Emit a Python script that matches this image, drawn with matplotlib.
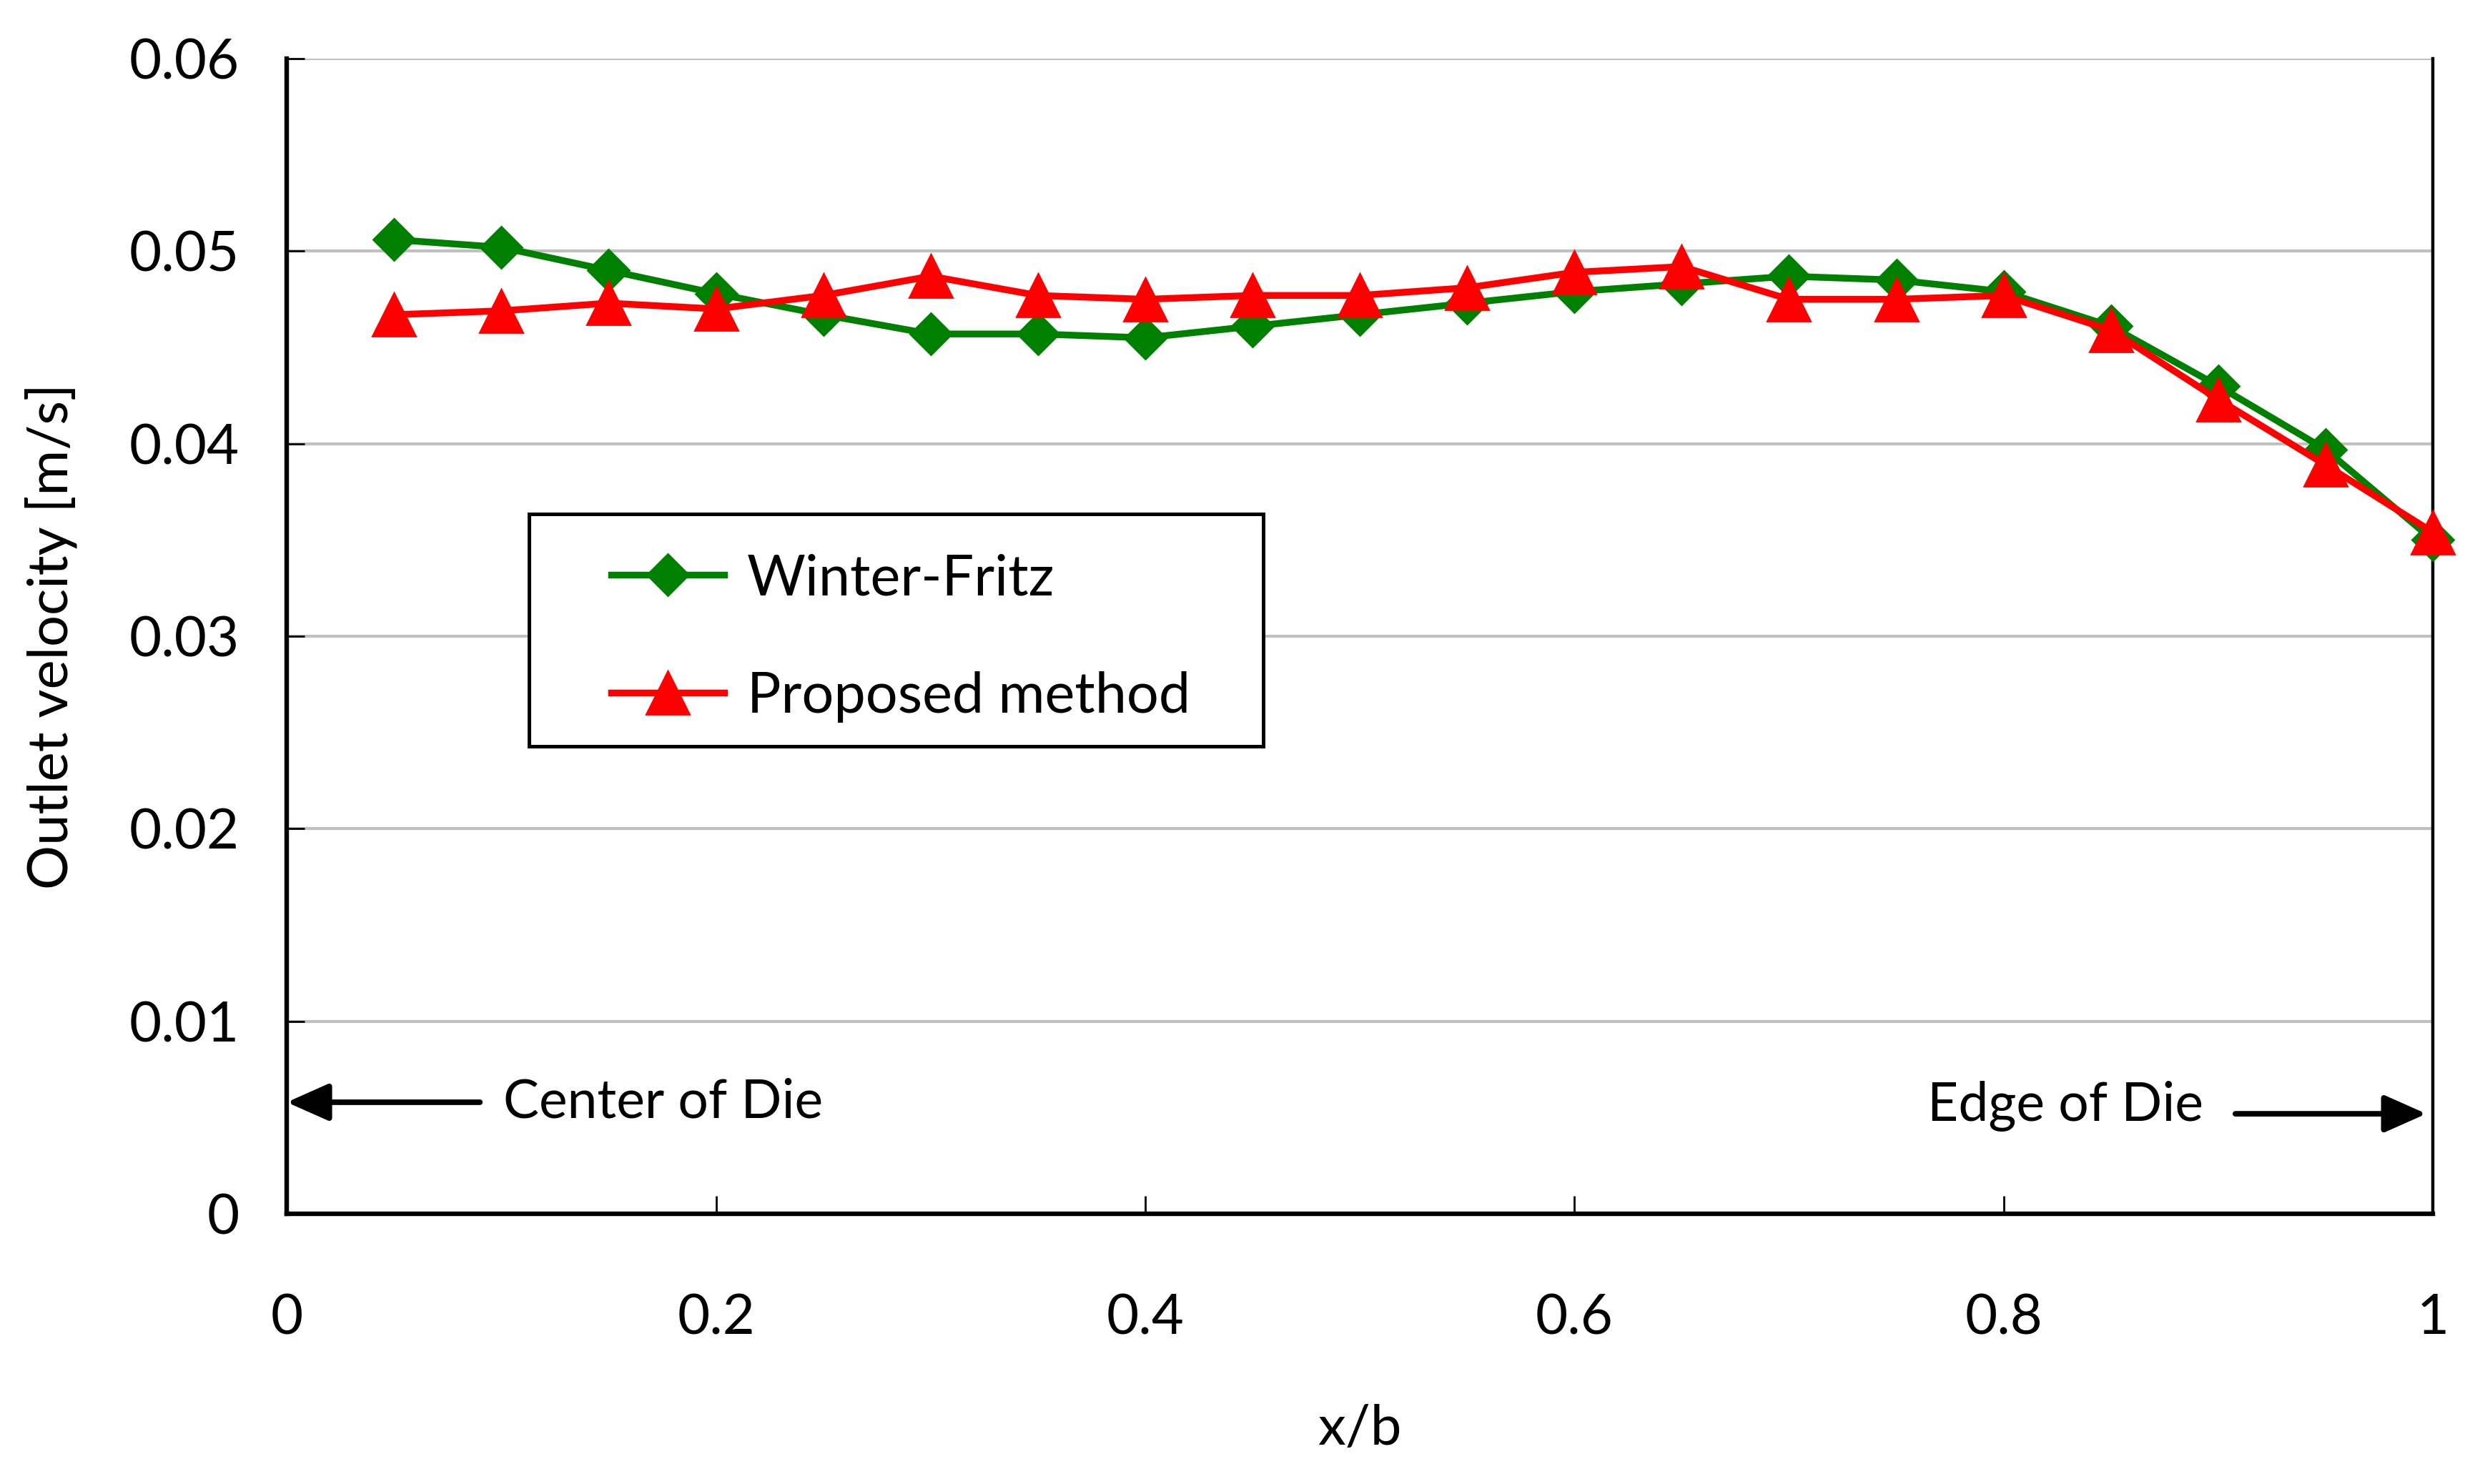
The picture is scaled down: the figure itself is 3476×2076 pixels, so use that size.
import numpy as np
import matplotlib
matplotlib.use("Agg")
import matplotlib.pyplot as plt
from matplotlib.patches import Rectangle

plt.rcParams['font.family'] = ['Lato', 'DejaVu Sans']

# data
x_b = [0.05, 0.1, 0.15, 0.2, 0.25, 0.3, 0.35, 0.4, 0.45, 0.5,
       0.55, 0.6, 0.65, 0.7, 0.75, 0.8, 0.85, 0.9, 0.95, 1.0]
winter_fritz = [0.0506, 0.0502, 0.0490, 0.0478, 0.0467, 0.0457, 0.0457, 0.0455, 0.0461, 0.0467,
                0.0473, 0.0479, 0.0483, 0.0487, 0.0485, 0.0479, 0.0461, 0.0430, 0.0397, 0.0350]
proposed = [0.0467, 0.0469, 0.0473, 0.0470, 0.0477, 0.0487, 0.0477, 0.0475, 0.0477, 0.0477,
            0.0481, 0.0489, 0.0492, 0.0475, 0.0475, 0.0477, 0.0459, 0.0423, 0.0389, 0.0354]
xticks = [0, 0.2, 0.4, 0.6, 0.8, 1]
xticklabels = ['0', '0.2', '0.4', '0.6', '0.8', '1']
yticks = [0, 0.01, 0.02, 0.03, 0.04, 0.05, 0.06]
yticklabels = ['0', '0.01', '0.02', '0.03', '0.04', '0.05', '0.06']

fig = plt.figure(figsize=(17.38, 10.38), dpi=200)
ax = fig.add_axes([0.1154, 0.182, 0.8636, 0.7785])

ax.plot(x_b, winter_fritz, color='#008000', lw=3.4, marker='D', ms=15,
        label='Winter-Fritz', clip_on=False, zorder=3)
ax.plot(x_b, proposed, color='#ff0000', lw=3.4, marker='^', ms=21.5,
        label='Proposed method', clip_on=False, zorder=3)

ax.set_xlim(0, 1)
ax.set_ylim(0, 0.06)
ax.set_xticks(xticks)
ax.set_xticklabels(xticklabels)
ax.set_yticks(yticks)
ax.set_yticklabels(yticklabels)
ax.yaxis.grid(True, color='#c0c0c0', lw=1.5, zorder=0)
ax.set_axisbelow(True)

for s in ['left', 'bottom']:
    ax.spines[s].set_linewidth(2.3)
ax.spines['right'].set_linewidth(1.6)
ax.spines['top'].set_visible(False)

ax.tick_params(axis='x', direction='in', length=9, width=1, pad=40, labelsize=28)
ax.tick_params(axis='y', direction='in', length=9, width=1, pad=24, labelsize=28)

ax.set_xlabel('x/b', fontsize=28, labelpad=30)
ax.set_ylabel('Outlet velocity [m/s]', fontsize=28, labelpad=26)

# legend box
bx0, by0, bx1, by1 = 0.113, 0.405, 0.455, 0.606
ax.add_patch(Rectangle((bx0, by0), bx1 - bx0, by1 - by0, transform=ax.transAxes,
                       facecolor='white', edgecolor='black', lw=1.8, zorder=4))
leg = ax.legend(loc='center', bbox_to_anchor=((bx0 + bx1) / 2 + 0.002, (by0 + by1) / 2 - 0.007),
                bbox_transform=ax.transAxes, frameon=False, fontsize=28.5,
                handlelength=2.0, handletextpad=0.4, labelspacing=1.17)
leg.set_zorder(5)

# die annotations
ax.annotate('', xy=(0, 0.0058), xytext=(0.090, 0.0058),
            arrowprops=dict(arrowstyle='-|>,head_length=0.9,head_width=0.4',
                            mutation_scale=20, lw=2.8, color='black',
                            shrinkA=0, shrinkB=0))
ax.text(0.101, 0.0058, 'Center of Die', fontsize=27, va='center', ha='left')
ax.annotate('', xy=(0.997, 0.0052), xytext=(0.908, 0.0052),
            arrowprops=dict(arrowstyle='-|>,head_length=0.9,head_width=0.4',
                            mutation_scale=20, lw=2.8, color='black',
                            shrinkA=0, shrinkB=0))
ax.text(0.893, 0.0056, 'Edge of Die', fontsize=27, va='center', ha='right')

fig.savefig('out.png', dpi=200)
